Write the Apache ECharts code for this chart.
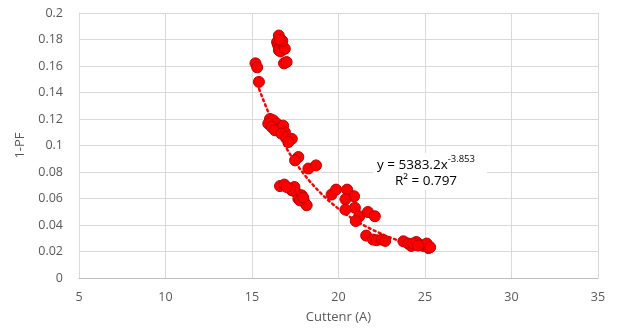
<!DOCTYPE html>
<html>
<head>
<meta charset="utf-8">
<script src="https://cdn.jsdelivr.net/npm/echarts@6/dist/echarts.min.js"></script>
<style>
  html, body { margin: 0; padding: 0; background: #fff; }
  #chart { width: 618px; height: 331px; }
</style>
</head>
<body>
<div id="chart"></div>
<script>
// Measured current (A) and 1-PF for each sample
const currentA = [
  16.55, 16.45, 16.5, 16.6, 16.7, 16.8, 16.55, 16.65, 16.9, 16.75, 16.6,
  16.85, 17.0,
  15.2, 15.3, 15.4,
  16.04, 16.23, 16.43, 15.94, 16.14, 16.62, 16.33, 16.8, 16.9, 16.7, 17.0, 17.3, 17.1,
  17.68, 17.49, 18.26, 18.7,
  16.62, 16.87, 17.45, 17.3, 17.58, 17.68, 17.87, 18.02, 18.16, 17.77, 17.96, 17.2, 17.0,
  19.6, 19.86, 20.5, 20.9, 20.4, 20.95, 20.4, 21.2, 21.0, 21.7, 22.1,
  21.6, 22.0, 22.2, 22.5, 22.7,
  23.75, 24.03, 24.2, 24.5, 24.7, 24.9, 25.2, 25.1, 24.3, 24.6, 25.3
];
const onePF = [
  0.183, 0.178, 0.176, 0.175, 0.177, 0.174, 0.172, 0.171, 0.173, 0.179, 0.180,
  0.162, 0.163,
  0.162, 0.159, 0.148,
  0.120, 0.119, 0.1165, 0.1165, 0.114, 0.1127, 0.1115, 0.115, 0.110, 0.109, 0.1064, 0.105, 0.1026,
  0.0913, 0.0888, 0.0826, 0.085,
  0.0694, 0.0705, 0.0687, 0.0662, 0.0642, 0.0599, 0.0624, 0.0574, 0.0549, 0.0586, 0.0607, 0.0675, 0.0687,
  0.063, 0.0667, 0.0667, 0.0617, 0.0594, 0.053, 0.0516, 0.0466, 0.043, 0.0498, 0.0466,
  0.032, 0.029, 0.0285, 0.029, 0.028,
  0.0277, 0.026, 0.0242, 0.0272, 0.0252, 0.0242, 0.0226, 0.026, 0.026, 0.0245, 0.0232
];

// Power trendline y = a * x^b, as reported in the equation label
const trendCoef = 5383.2;
const trendExp = -3.853;
const trendR2 = 0.797;
const trendRange = [15.2, 25.3];

const xTicks = { min: 5, max: 35, interval: 5 };
const yTicks = { min: 0, max: 0.2, interval: 0.02 };

const points = currentA.map((x, i) => [x, onePF[i]]);
const trend = [];
for (let k = 0; k <= 100; k++) {
  const x = trendRange[0] + (trendRange[1] - trendRange[0]) * k / 100;
  trend.push([x, trendCoef * Math.pow(x, trendExp)]);
}

const textColor = '#595959';
const font = 'Open Sans';

const chart = echarts.init(document.getElementById('chart'), null, { renderer: 'canvas' });
chart.setOption({
  animation: false,
  backgroundColor: '#ffffff',
  grid: { left: 79, right: 20, top: 13, bottom: 53, containLabel: false },
  xAxis: {
    type: 'value',
    min: xTicks.min, max: xTicks.max, interval: xTicks.interval,
    name: 'Cuttenr (A)',
    nameLocation: 'middle',
    nameGap: 33,
    nameTextStyle: { color: textColor, fontSize: 13, fontFamily: font },
    axisLine: { show: true, onZero: false, lineStyle: { color: '#BFBFBF', width: 1 } },
    axisTick: { show: false },
    axisLabel: { color: textColor, fontSize: 12.5, fontFamily: font, margin: 13 },
    splitLine: { show: true, lineStyle: { color: '#D9D9D9', width: 1 } }
  },
  yAxis: {
    type: 'value',
    min: yTicks.min, max: yTicks.max, interval: yTicks.interval,
    name: '1-PF',
    nameLocation: 'middle',
    nameGap: 52,
    nameRotate: 90,
    nameTextStyle: { color: textColor, fontSize: 13, fontFamily: font },
    axisLine: { show: true, lineStyle: { color: '#D9D9D9', width: 1 } },
    axisTick: { show: false },
    axisLabel: {
      color: textColor, fontSize: 12.5, fontFamily: font, margin: 16,
      formatter: v => String(parseFloat(v.toFixed(2)))
    },
    splitLine: { show: true, lineStyle: { color: '#D9D9D9', width: 1 } }
  },
  series: [
    {
      type: 'line',
      data: trend,
      showSymbol: false,
      symbol: 'none',
      smooth: false,
      lineStyle: { color: '#FF0000', width: 2.5, type: [2, 3.5], cap: 'round' },
      z: 3
    },
    {
      type: 'scatter',
      data: points,
      symbol: 'circle',
      symbolSize: 11,
      itemStyle: { color: '#FF0000', borderColor: '#C00000', borderWidth: 1, opacity: 1 },
      z: 4
    }
  ],
  graphic: [
    {
      type: 'rect',
      left: 373, top: 153,
      shape: { width: 114, height: 37 },
      style: { fill: '#ffffff' },
      z: 10
    },
    {
      type: 'text',
      left: 377, top: 154,
      style: {
        text: '{m|y = ' + trendCoef + 'x}{s|' + trendExp + '}\n{r|R² = ' + trendR2 + '}',
        align: 'center',
        rich: {
          m: { fontSize: 13.5, fontFamily: font, color: textColor, lineHeight: 18, verticalAlign: 'bottom' },
          s: { fontSize: 9.5, fontFamily: font, color: textColor, lineHeight: 18, verticalAlign: 'top' },
          r: { fontSize: 13.5, fontFamily: font, color: textColor, lineHeight: 18, align: 'center' }
        }
      },
      z: 11
    }
  ]
});
</script>
</body>
</html>
